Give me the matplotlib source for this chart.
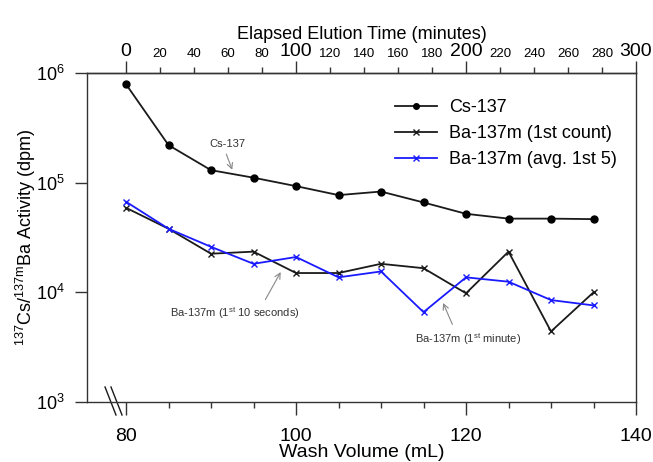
import numpy as np
import matplotlib
matplotlib.use('Agg')
import matplotlib.pyplot as plt
import matplotlib.transforms as mtransforms

plt.rcParams['font.family'] = ['Liberation Sans', 'DejaVu Sans']
plt.rcParams['mathtext.fontset'] = 'custom'
plt.rcParams['mathtext.rm'] = 'Liberation Sans'
plt.rcParams['mathtext.it'] = 'Liberation Sans:italic'
plt.rcParams['mathtext.bf'] = 'Liberation Sans:bold'

# wash volume (mL)
volume = [80, 85, 90, 95, 100, 105, 110, 115, 120, 125, 130, 135]
# activities (dpm)
cs137 = [7.9e5, 2.2e5, 1.30e5, 1.11e5, 9.3e4, 7.7e4, 8.3e4, 6.6e4, 5.2e4, 4.7e4, 4.7e4, 4.65e4]
ba_first = [5.9e4, 3.8e4, 2.25e4, 2.35e4, 1.5e4, 1.5e4, 1.82e4, 1.66e4, 9.8e3, 2.35e4, 4.4e3, 1.0e4]
ba_avg5 = [6.7e4, 3.8e4, 2.6e4, 1.82e4, 2.1e4, 1.37e4, 1.55e4, 6.6e3, 1.37e4, 1.25e4, 8.5e3, 7.6e3]

series_labels = ['Cs-137', 'Ba-137m (1st count)', 'Ba-137m (avg. 1st 5)']

# top axis: elapsed elution time (minutes)
time_major = [0, 100, 200, 300]
time_minor = [20, 40, 60, 80, 120, 140, 160, 180, 220, 240, 260, 280]

# annotations: text, text position, arrow tail, arrow tip (data coords)
notes = [
    ('Cs-137', (91.9, 2.26e5), (91.8, 1.82e5), (92.5, 1.31e5)),
    (r'Ba-137m (1$^{\mathrm{st}}$ 10 seconds)', (92.8, 6.5e3), (96.4, 8.6e3), (98.2, 1.53e4)),
    (r'Ba-137m (1$^{\mathrm{st}}$ minute)', (120.2, 3.75e3), (118.4, 5.1e3), (117.3, 8.0e3)),
]

fig = plt.figure(figsize=(6.53, 4.62), dpi=100)
ax = fig.add_axes([87/653, 60/462, 549/653, 329/462])

ink = '#1a1a1a'
ax.plot(volume, cs137, color=ink, lw=1.3, marker='o', ms=5, mfc='black', mec='black',
        label=series_labels[0])
ax.plot(volume, ba_first, color=ink, lw=1.3, marker='x', ms=5, mew=1.0,
        label=series_labels[1])
ax.plot(volume, ba_avg5, color='#1a1aff', lw=1.3, marker='x', ms=5, mew=1.0,
        label=series_labels[2])

ax.set_yscale('log')
ax.set_ylim(1e3, 1e6)
ax.set_xlim(75.41, 140)
ax.set_yticks([1e3, 1e4, 1e5, 1e6])
ax.yaxis.set_minor_locator(matplotlib.ticker.NullLocator())
ax.set_xticks([80, 100, 120, 140])
ax.set_xticks([85, 90, 95, 105, 110, 115, 125, 130, 135], minor=True)

for sp in ax.spines.values():
    sp.set_linewidth(1.0)
    sp.set_color('#333333')

ax.tick_params(axis='x', which='major', direction='out', length=9, width=1.0,
               labelsize=14, pad=10, color='#333333')
ax.tick_params(axis='x', which='minor', direction='out', length=4, width=1.0, color='#333333')
ax.tick_params(axis='y', which='major', direction='out', length=9, width=1.0,
               labelsize=13, pad=7, color='#333333')

ax.set_xlabel('Wash Volume (mL)', fontsize=14, labelpad=-1)
ax.set_ylabel(r'$^{137}$Cs/$^{137\mathrm{m}}$Ba Activity (dpm)', fontsize=13, labelpad=-1.5)

# top axis
sec = ax.secondary_xaxis('top', functions=(lambda v: (v - 80) * 5, lambda t: t / 5 + 80))
sec.set_xticks(time_major)
sec.set_xticklabels([str(t) for t in time_major])
sec.set_xticks(time_minor, minor=True)
sec.set_xticklabels([str(t) for t in time_minor], minor=True)
sec.tick_params(which='major', direction='out', length=9, width=1.0, labelsize=14,
                pad=0, color='#333333')
sec.tick_params(which='minor', direction='out', length=4, width=1.0, labelsize=9.5,
                pad=5, color='#333333')
sec.spines['top'].set_linewidth(1.0)
sec.spines['top'].set_color('#333333')
sec.set_xlabel('Elapsed Elution Time (minutes)', fontsize=13, labelpad=3)

# axis break marks
trans = mtransforms.blended_transform_factory(ax.transData, ax.transAxes)
for x0, x1 in [(77.53, 78.82), (78.23, 79.53)]:
    ax.plot([x0, x1], [0.0456, -0.0395], color=ink, lw=1.0, transform=trans, clip_on=False)

for txt, tpos, tail, tip in notes:
    ax.text(tpos[0], tpos[1], txt, fontsize=8, ha='center', va='center', color='#333333')
    ax.annotate('', xy=tip, xytext=tail,
                arrowprops=dict(arrowstyle='->', color='#888888', lw=0.8,
                                shrinkA=0, shrinkB=0))

ax.legend(loc='upper left', bbox_to_anchor=(0.561, 0.92), frameon=False, fontsize=13,
          handlelength=2.3, handletextpad=0.7, labelspacing=0.5, borderpad=0,
          borderaxespad=0, markerscale=0.8)

fig.savefig('out.png', dpi=100)
